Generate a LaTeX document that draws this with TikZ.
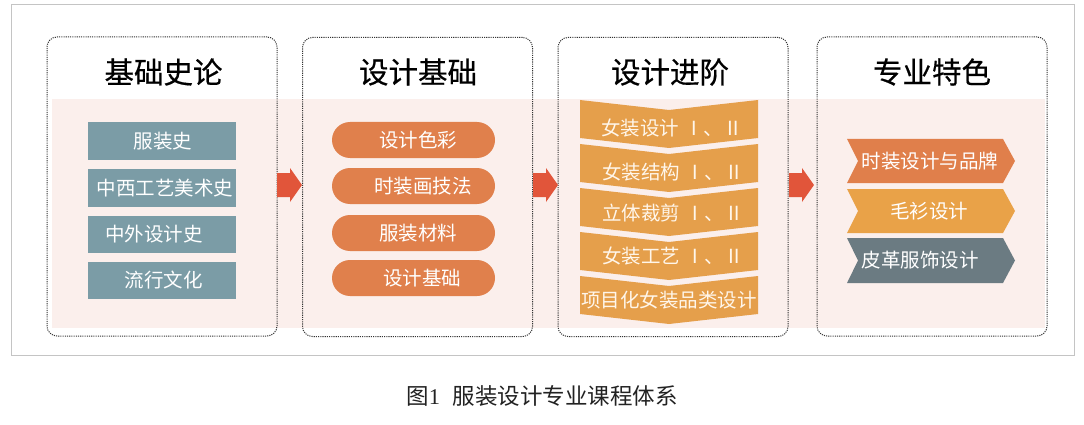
\documentclass[tikz,border=0pt]{standalone}
\usepackage{fontspec}
\newfontfamily\cjk{Noto Sans CJK SC}
\newfontfamily\cjkt[FakeBold=0.5]{Noto Sans CJK SC}
\newfontfamily\tms{Liberation Serif}
\definecolor{framegray}{HTML}{C4C4C4}
\definecolor{dotgray}{HTML}{333333}
\definecolor{bandpink}{HTML}{FBEFEC}
\definecolor{histblue}{HTML}{7B9CA6}
\definecolor{pillorange}{HTML}{E0804C}
\definecolor{chevgold}{HTML}{E59F4B}
\definecolor{tagorange}{HTML}{E07F4B}
\definecolor{taggold}{HTML}{E9A248}
\definecolor{tagslate}{HTML}{6B7B82}
\definecolor{arrowred}{HTML}{E1553A}
\definecolor{cream}{HTML}{FFF6EA}
\definecolor{captext}{HTML}{222222}
\begin{document}
\begin{tikzpicture}[x=1pt,y=-1pt,
  dotbox/.style={draw=dotgray, line width=1pt, dash pattern=on 1.1pt off 1.1pt,
    rounded corners=10pt, minimum width=230pt, minimum height=299pt, inner sep=0pt},
  titletext/.style={font=\cjkt\fontsize{29.5}{30}\selectfont, text=black, inner sep=0pt},
  itemtext/.style={font=\cjk\fontsize{19.5}{20}\selectfont, text=white, inner sep=0pt},
  histbox/.style={fill=histblue, minimum width=148pt, minimum height=37.5pt, inner sep=0pt},
  pillbox/.style={fill=pillorange, rounded corners=18pt, minimum width=163pt, minimum height=36pt, inner sep=0pt},
  blockarrow/.style={fill=arrowred}
]
\useasboundingbox (0,0) rectangle (1084,425);
\fill[white] (0,0) rectangle (1084,425);
% outer frame
\draw[framegray, line width=0.8pt] (11,4) rectangle (1074,355);
% pink band
\fill[bandpink] (52,99) rectangle (1045,328);

% dotted boxes
\node[dotbox] (b1) at (162,186.5) {};
\node[dotbox] (b2) at (417.5,187) {};
\node[dotbox] (b3) at (673,187) {};
\node[dotbox] (b4) at (932,186.5) {};

% titles
\node[titletext] (t1) at (163.5,72) {基础史论};
\node[titletext] (t2) at (418,72) {设计基础};
\node[titletext] (t3) at (670,72) {设计进阶};
\node[titletext] (t4) at (932,72) {专业特色};

% box 1 items
\node[histbox] (h1) at (162,141) {};
\node[histbox] (h2) at (162,188) {};
\node[histbox] (h3) at (162,234.5) {};
\node[histbox] (h4) at (162,280.5) {};
\node[itemtext] (h1t) at (163,141) {服装史};
\node[itemtext] (h2t) at (165,188) {中西工艺美术史};
\node[itemtext] (h3t) at (154,234.5) {中外设计史};
\node[itemtext] (h4t) at (163.5,280.5) {流行文化};

% box 2 items
\node[pillbox] (p1) at (413.5,140) {};
\node[pillbox] (p2) at (413.5,186) {};
\node[pillbox] (p3) at (413.5,233) {};
\node[pillbox] (p4) at (413.5,278) {};
\node[itemtext] (p1t) at (418,140) {设计色彩};
\node[itemtext] (p2t) at (423,186) {时装画技法};
\node[itemtext] (p3t) at (418,233) {服装材料};
\node[itemtext] (p4t) at (422,278) {设计基础};

% box 3 chevrons
\foreach \yy in {100,144,188,232,276}{
  \fill[chevgold] (580,\yy) -- (669,\yy+10) -- (758,\yy) -- (758,\yy+38)
    -- (669,\yy+48) -- (580,\yy+38) -- cycle;
}
\node[itemtext, text=cream] (c1t) at (672,128) {女装设计\hspace{0.25em}Ⅰ、Ⅱ};
\node[itemtext, text=cream] (c2t) at (673,172) {女装结构\hspace{0.25em}Ⅰ、Ⅱ};
\node[itemtext, text=cream] (c3t) at (673,213) {立体裁剪\hspace{0.25em}Ⅰ、Ⅱ};
\node[itemtext, text=cream] (c4t) at (673,256) {女装工艺\hspace{0.25em}Ⅰ、Ⅱ};
\node[itemtext, text=cream, font=\cjk\fontsize{19.5}{20}\selectfont] (c5t) at (669,300) {项目化女装品类设计};

% box 4 tags
\fill[tagorange] (847,139) -- (1003,139) -- (1015,161) -- (1003,183) -- (847,183) -- (858,161) -- cycle;
\fill[taggold] (847,189) -- (1003,189) -- (1015,211) -- (1003,233) -- (847,233) -- (858,211) -- cycle;
\fill[tagslate] (847,238) -- (1003,238) -- (1015,260.5) -- (1003,283) -- (847,283) -- (858,260.5) -- cycle;
\node[itemtext] (s1t) at (930,161) {时装设计与品牌};
\node[itemtext] (s2t) at (929,211) {毛衫设计};
\node[itemtext] (s3t) at (920,260.5) {皮革服饰设计};

% block arrows between boxes
\coordinate (a1) at (277,185);
\coordinate (a2) at (533,185);
\coordinate (a3) at (789,185);
\foreach \aa in {a1,a2,a3}{
  \fill[blockarrow] (\aa) ++(0,-12) -- ++(13,0) -- ++(0,-5) -- ++(12,17)
    -- ++(-12,17) -- ++(0,-5) -- ++(-13,0) -- cycle;
}

% caption
\node[inner sep=0pt, text=captext, font=\fontsize{22.5}{23}\selectfont] (cap) at (542,396)
  {{\cjk 图}{\tms 1}\hspace{0.55em}{\cjk 服装设计专业课程体系}};
\end{tikzpicture}
\end{document}
